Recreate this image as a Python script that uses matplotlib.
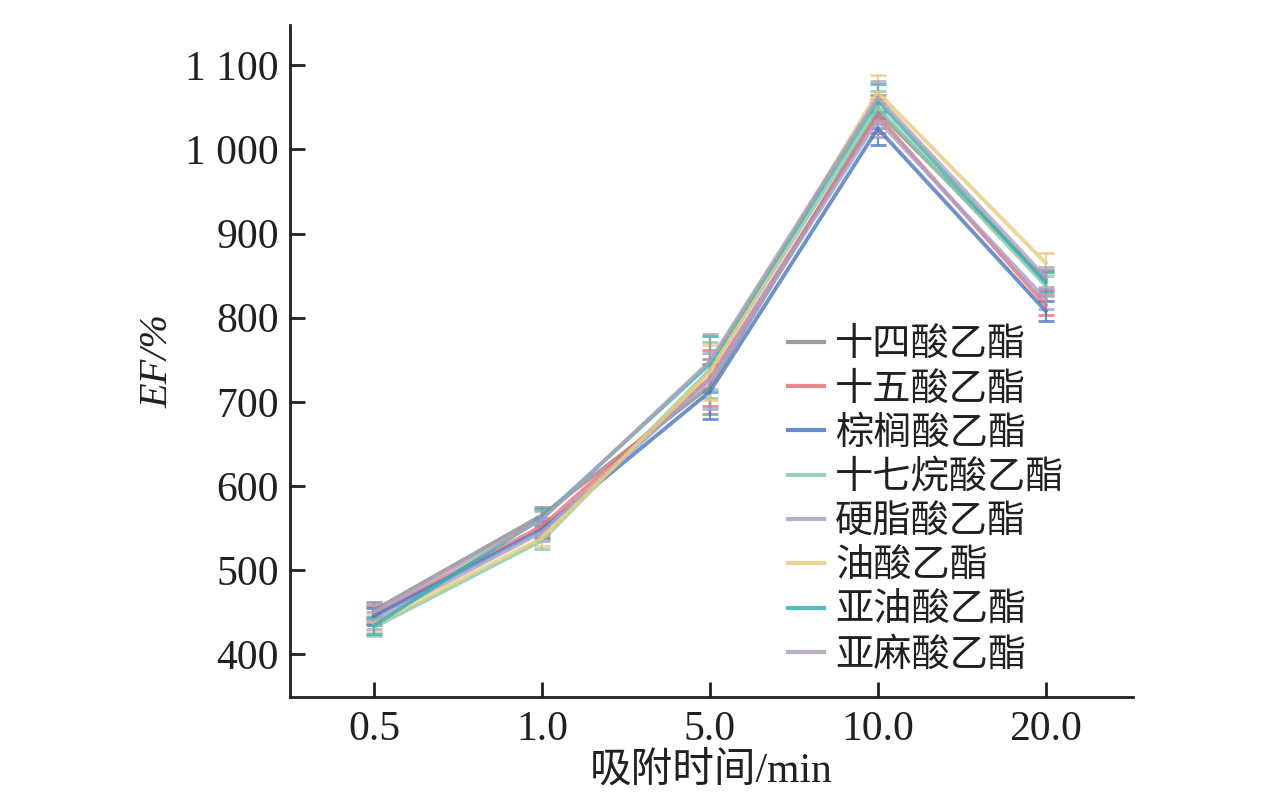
import matplotlib
matplotlib.use("Agg")
import matplotlib.pyplot as plt
from matplotlib.lines import Line2D
import numpy as np

categories = ["0.5", "1.0", "5.0", "10.0", "20.0"]
series_names = ["十四酸乙酯", "十五酸乙酯", "棕榈酸乙酯", "十七烷酸乙酯",
                "硬脂酸乙酯", "油酸乙酯", "亚油酸乙酯", "亚麻酸乙酯"]
v_c14 = [452, 565, 718, 1045, 845]
v_c15 = [447, 552, 728, 1040, 815]
v_c16 = [445, 548, 712, 1025, 808]
v_c17 = [432, 535, 738, 1050, 838]
v_c18 = [440, 545, 725, 1035, 822]
v_c181 = [436, 538, 735, 1068, 865]
v_c182 = [434, 562, 745, 1058, 842]
v_c183 = [450, 560, 748, 1062, 848]
errors = [10, 10, 33, 20, 12]

values = [v_c14, v_c15, v_c16, v_c17, v_c18, v_c181, v_c182, v_c183]
colors = ["#8c8c8c", "#e8707a", "#4a78c0", "#88c8a8",
          "#a8a0c8", "#e8cc80", "#38b0b0", "#b0a0b8"]

serif = ["Liberation Serif", "Noto Sans CJK SC"]
cjk = ["Noto Sans CJK SC", "Liberation Serif"]

fig = plt.figure(figsize=(12.76, 8.02), dpi=100)
ax = fig.add_axes([290/1276, 1-697/802, (1133-290)/1276, (697-25)/802])

x = np.arange(len(categories))
for name, v, c in zip(series_names, values, colors):
    ax.errorbar(x, v, yerr=errors, color=c, lw=2.8, alpha=0.8,
                capsize=5.5, capthick=2, elinewidth=1.6)

ax.set_xlim(-0.5, 4.52)
ax.set_ylim(349, 1148)
ax.set_xticks(x)
ax.set_xticklabels(categories)
ax.set_yticks([400, 500, 600, 700, 800, 900, 1000, 1100])
ax.set_yticklabels(["400", "500", "600", "700", "800", "900", "1 000", "1 100"])

for s in ["top", "right"]:
    ax.spines[s].set_visible(False)
for s in ["left", "bottom"]:
    ax.spines[s].set_linewidth(2)
    ax.spines[s].set_color("#231f20")

ax.tick_params(direction="in", length=11, width=2, color="#231f20")
ax.tick_params(axis="y", pad=8)
ax.tick_params(axis="x", pad=10)
for lab in ax.get_xticklabels() + ax.get_yticklabels():
    lab.set_family(serif)
    lab.set_fontsize(30)
    lab.set_color("#231f20")

ax.set_xlabel("吸附时间/min", family=serif, fontsize=30, color="#231f20", labelpad=2)
ax.set_ylabel("EF/%", family=serif, fontsize=29, style="italic", color="#231f20", labelpad=6)

handles = [Line2D([0], [0], color=c, lw=3, alpha=0.85) for c in colors]
leg = ax.legend(handles, series_names, loc="upper left",
                bbox_to_anchor=((788-290)/(1133-290), (697-325)/(697-25)),
                frameon=False, prop={"family": cjk, "size": 27.5},
                handlelength=0.95, handletextpad=0.28, labelspacing=0.14,
                borderaxespad=0, borderpad=0)
for t in leg.get_texts():
    t.set_color("#231f20")

fig.savefig("out.png", dpi=100)
